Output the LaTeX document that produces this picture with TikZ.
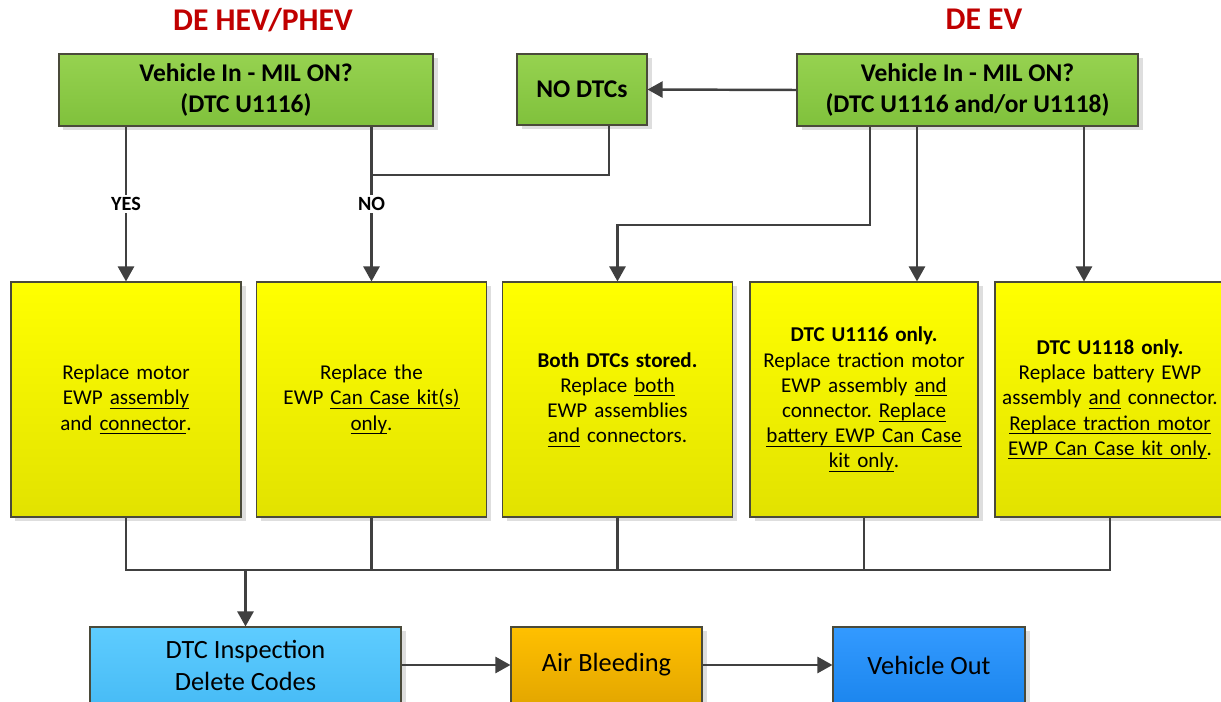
\documentclass[tikz,border=0pt]{standalone}
\usepackage{fontspec}
\setmainfont{Carlito}
\usepackage{xcolor}
\usetikzlibrary{arrows.meta,shadows}
\frenchspacing
\definecolor{ttlred}{HTML}{C00000}
\definecolor{linegray}{HTML}{404040}
\definecolor{border}{HTML}{4A4A3A}
\definecolor{greenT}{HTML}{96D250}
\definecolor{greenB}{HTML}{80C13C}
\definecolor{yelT}{HTML}{FFFF00}
\definecolor{yelB}{HTML}{E2E200}
\definecolor{skyT}{HTML}{5ECCFF}
\definecolor{skyB}{HTML}{48BCF6}
\definecolor{orgT}{HTML}{FFC000}
\definecolor{orgB}{HTML}{E4A700}
\definecolor{bluT}{HTML}{339AFF}
\definecolor{bluB}{HTML}{1C86EE}
\newcommand\ulin[1]{\leavevmode\setbox0\hbox{#1}\rlap{\rule[-2.3pt]{\wd0}{0.55pt}}\box0\relax}
\def\pxu{0.02cm}
\tikzset{
  box/.style={draw=border, line width=0.6pt, inner sep=0pt, align=center,
    drop shadow={shadow xshift=0.09cm, shadow yshift=-0.09cm, fill=black!13, opacity=1}},
  gbox/.style={box, top color=greenT, bottom color=greenB,
    font=\fontsize{14.5}{17.6}\selectfont\bfseries, minimum height=72*\pxu},
  ybox/.style={box, top color=yelT, bottom color=yelB, text width=4.5cm,
    font=\fontsize{12}{14.35}\selectfont, minimum width=230*\pxu, minimum height=235*\pxu},
  endbox/.style={box, font=\fontsize{15}{18.2}\selectfont, minimum height=76*\pxu},
  ttl/.style={text=ttlred, font=\fontsize{18}{21}\selectfont\bfseries},
  lbl/.style={fill=white, inner sep=1.5pt, font=\fontsize{11.5}{13}\selectfont\bfseries},
  conn/.style={draw=linegray, line width=1.4pt},
  tip/.style={-{Triangle[length=0.3cm, width=0.32cm]}}
}

\begin{document}
\begin{tikzpicture}[x=0.02cm, y=-0.02cm]
  \fill[white] (0,0) rectangle (1221,702);
  \useasboundingbox (0,0) rectangle (1221,702);

  % titles
  \node[ttl] (hevtitle) at (263,20) {DE HEV/PHEV};
  \node[ttl] (evtitle) at (984,19) {DE EV};

  % start boxes
  \node[gbox, minimum width=374*\pxu] (vinA) at (246,90) {Vehicle In - MIL ON?\\(DTC U1116)};
  \node[gbox, minimum width=130*\pxu, minimum height=71*\pxu] (nodtc) at (582,89.5) {NO DTCs};
  \node[gbox, minimum width=341*\pxu] (vinB) at (967.5,90) {Vehicle In - MIL ON?\\(DTC U1116 and/or U1118)};

  % repair boxes
  \node[ybox] (rA) at (126,399.5) {Replace motor\\EWP \ulin{assembly}\\and \ulin{connector}.};
  \node[ybox] (rB) at (371.5,399.5) {Replace the\\EWP \ulin{Can Case kit(s)}\\\ulin{only}.};
  \node[ybox] (rC) at (617.5,399.5) {\textbf{Both DTCs stored.}\\Replace \ulin{both}\\EWP assemblies\\\ulin{and} connectors.};
  \node[ybox, minimum width=228*\pxu] (rD) at (864,399.5) {\textbf{DTC U1116 only.}\\Replace traction motor\\EWP assembly \ulin{and}\\connector. \ulin{Replace}\\\ulin{battery EWP Can Case}\\\ulin{kit only}.};
  \node[ybox] (rE) at (1110,399.5) {\textbf{DTC U1118 only.}\\Replace battery EWP\\assembly \ulin{and} connector.\\\ulin{Replace traction motor}\\\ulin{EWP Can Case kit only}.};

  % end boxes
  \node[endbox, top color=skyT, bottom color=skyB, minimum width=311*\pxu] (dtc) at (245.5,665) {DTC Inspection\\Delete Codes};
  \node[endbox, top color=orgT, bottom color=orgB, minimum width=191*\pxu] (air) at (606.5,665) {Air Bleeding};
  \node[endbox, top color=bluT, bottom color=bluB, minimum width=192*\pxu] (vout) at (929,665) {Vehicle Out};

  % turning points
  \coordinate (nojoin) at (609,175);
  \coordinate (bothturn) at (870,225);
  \coordinate (xD) at (917,0);
  \coordinate (xE) at (1084,0);
  \coordinate (bus) at (0,570);

  % HEV/PHEV branches
  \draw[conn, tip] (vinA.south -| rA) -- node[lbl] {YES} (rA.north);
  \draw[conn, tip] (vinA.south -| rB) -- node[lbl] {NO} (rB.north);
  \draw[conn] (nodtc.south -| nojoin) |- (nojoin -| rB);

  % EV branches
  \draw[conn, tip] (vinB.west) -- (nodtc.east);
  \draw[conn, tip] (vinB.south -| bothturn) |- (bothturn -| rC) -- (rC.north);
  \draw[conn, tip] (vinB.south -| xD) -- (rD.north -| xD);
  \draw[conn, tip] (vinB.south -| xE) -- (rE.north -| xE);

  % collect to inspection
  \draw[conn] (rA.south) |- (bus -| rE) -- (rE.south);
  \foreach \r in {rB,rC,rD}
    \draw[conn] (\r.south) -- (\r.south |- bus);
  \draw[conn, tip] (bus -| dtc) -- (dtc.north);

  \draw[conn, tip] (dtc.east) -- (air.west);
  \draw[conn, tip] (air.east) -- (vout.west);
\end{tikzpicture}
\end{document}
